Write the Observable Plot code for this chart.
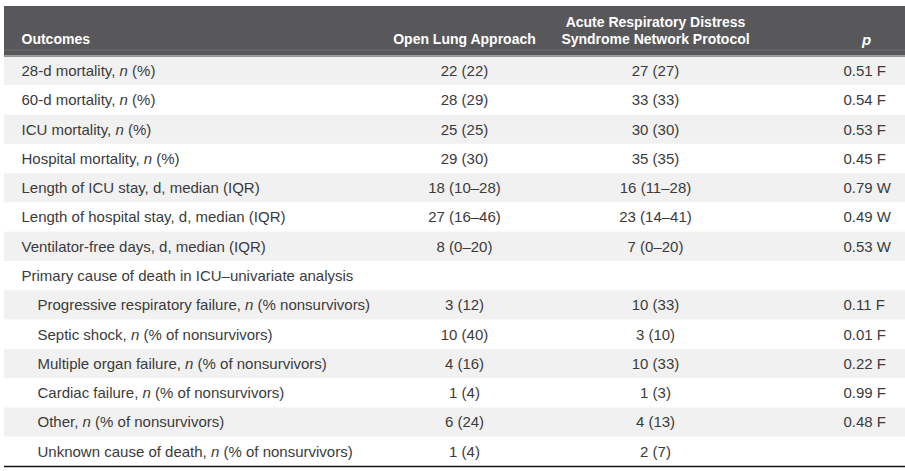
<!DOCTYPE html>
<html><head><meta charset="utf-8">
<script src="https://cdn.jsdelivr.net/npm/d3@7"></script>
<script src="https://cdn.jsdelivr.net/npm/@observablehq/plot@0.6"></script>
<style>body{margin:0;background:#fff} svg{display:block} text{white-space:pre}</style>
</head><body><div id="chart"></div>
<script>
// ---- data ----
const headers = ["Outcomes", "Open Lung Approach", "Acute Respiratory Distress\nSyndrome Network Protocol", "p"];
const outcomes = [
  "28-d mortality, n (%)",
  "60-d mortality, n (%)",
  "ICU mortality, n (%)",
  "Hospital mortality, n (%)",
  "Length of ICU stay, d, median (IQR)",
  "Length of hospital stay, d, median (IQR)",
  "Ventilator-free days, d, median (IQR)",
  "Primary cause of death in ICU–univariate analysis",
  "Progressive respiratory failure, n (% nonsurvivors)",
  "Septic shock, n (% of nonsurvivors)",
  "Multiple organ failure, n (% of nonsurvivors)",
  "Cardiac failure, n (% of nonsurvivors)",
  "Other, n (% of nonsurvivors)",
  "Unknown cause of death, n (% of nonsurvivors)"
];
const levels = [0, 0, 0, 0, 0, 0, 0, 0, 1, 1, 1, 1, 1, 1];
const openLung = ["22 (22)", "28 (29)", "25 (25)", "29 (30)", "18 (10–28)", "27 (16–46)", "8 (0–20)", "", "3 (12)", "10 (40)", "4 (16)", "1 (4)", "6 (24)", "1 (4)"];
const ardsNet = ["27 (27)", "33 (33)", "30 (30)", "35 (35)", "16 (11–28)", "23 (14–41)", "7 (0–20)", "", "10 (33)", "3 (10)", "10 (33)", "1 (3)", "4 (13)", "2 (7)"];
const pValues = ["0.51 F", "0.54 F", "0.53 F", "0.45 F", "0.79 W", "0.49 W", "0.53 W", "", "0.11 F", "0.01 F", "0.22 F", "0.99 F", "0.48 F", ""];

const rows = outcomes.map((label, i) => ({i, label, level: levels[i], ola: openLung[i], ards: ardsNet[i], p: pValues[i]}));

// ---- layout ----
const W = 905, H = 471;
const bodyTop = 56, bodyBottom = 466, headerTop = 6;
const nRows = rows.length;
const rowH = (bodyBottom - bodyTop) / nRows;
const u = px => (px - bodyTop) / rowH; // pixel offset -> row units
const col = {left: 4, right: 905, label: 21, indent: 16, ola: 464, ards: 655, p: 843, pHead: 866};
const font = "'Liberation Sans', Arial, sans-serif";
const textColor = "#3b3b3b";
const headStyle = {fill: "#fff", fontWeight: "bold", fontSize: 14, lineAnchor: "bottom", lineHeight: 1.2};
const headY = u(43);

const plot = Plot.plot({
  width: W, height: H, margin: 0,
  x: {domain: [0, W], range: [0, W], axis: null},
  y: {domain: [0, nRows], range: [bodyTop, bodyBottom], axis: null},
  style: {fontFamily: font, background: "#fff"},
  marks: [
    // zebra rows
    Plot.rect(rows, {x1: col.left, x2: col.right, y1: d => d.i, y2: d => d.i + 1, fill: d => d.i % 2 ? "#ffffff" : "#f1f1f1"}),
    // header band
    Plot.rect([0], {x1: col.left, x2: col.right, y1: u(headerTop), y2: u(55), fill: "#58585a"}),
    Plot.ruleY([u(49.5)], {x1: col.left, x2: col.right, stroke: "#6c6c6e", strokeWidth: 1}),
    Plot.ruleY([u(55.5)], {x1: col.left, x2: col.right, stroke: "#3a3a3a", strokeWidth: 1}),
    // header text
    Plot.text([headers[0]], {x: col.label, y: headY, text: d => d, textAnchor: "start", ...headStyle}),
    Plot.text([headers[1]], {x: col.ola, y: headY, text: d => d, textAnchor: "middle", ...headStyle}),
    Plot.text([headers[2]], {x: col.ards, y: headY, text: d => d, textAnchor: "middle", ...headStyle}),
    Plot.text([headers[3]], {x: col.pHead, y: u(44), text: d => d, textAnchor: "middle", ...headStyle, fontStyle: "italic", fontSize: 15}),
    // body text
    Plot.text(rows, {x: d => col.label + d.level * col.indent, y: d => d.i + 0.5, text: "label", textAnchor: "start",
      fill: textColor, fontSize: 15, className: "rowlabel"}),
    Plot.text(rows, {x: col.ola, y: d => d.i + 0.5, text: "ola", textAnchor: "middle", fill: textColor, fontSize: 15}),
    Plot.text(rows, {x: col.ards, y: d => d.i + 0.5, text: "ards", textAnchor: "middle", fill: textColor, fontSize: 15}),
    Plot.text(rows, {x: col.p, y: d => d.i + 0.5, text: "p", textAnchor: "start", fill: textColor, fontSize: 15}),
    // bottom rule
    Plot.ruleY([nRows], {x1: col.left, x2: col.right, stroke: "#111", strokeWidth: 1.6})
  ]
});

// italicize the statistical "n"
d3.select(plot).selectAll("g.rowlabel text").each(function() {
  const t = this.textContent;
  const m = t.match(/^(.*, )n( \(.*)$/);
  if (m) {
    const sel = d3.select(this);
    sel.text(null);
    sel.append("tspan").text(m[1]);
    sel.append("tspan").attr("font-style", "italic").text("n");
    sel.append("tspan").text(m[2]);
  }
});

document.getElementById("chart").append(plot);
</script>
</body></html>
